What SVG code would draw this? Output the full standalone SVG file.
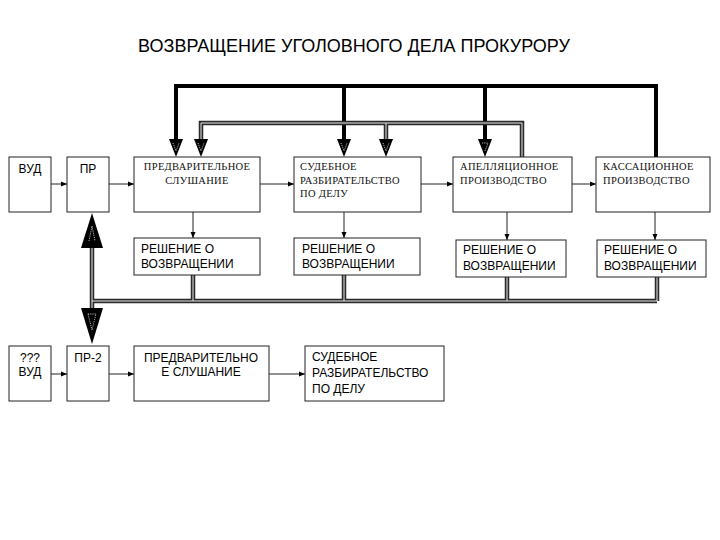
<svg xmlns="http://www.w3.org/2000/svg" width="720" height="540" viewBox="0 0 720 540">
<defs>
<marker id="ah" viewBox="0 0 6 6" refX="6" refY="3" markerWidth="6" markerHeight="6" markerUnits="userSpaceOnUse" orient="auto"><path d="M0,0.5 L6,3 L0,5.5 z" fill="#000"/></marker>
<style>
.box{fill:#fff;stroke:#222;stroke-width:1}
.sans{font-family:"Liberation Sans",Arial,sans-serif;font-size:12px;fill:#000}
.serif{font-family:"Liberation Serif","Times New Roman",serif;font-size:10.5px;fill:#111;letter-spacing:0.3px}
.thin{fill:none;stroke:#222;stroke-width:1;marker-end:url(#ah)}
.thick{fill:none;stroke:#000;stroke-width:4}
.dblo{fill:none;stroke:#2a2a2a;stroke-width:4.5}
.dbli{fill:none;stroke:#e8e8e8;stroke-width:1}
.head{fill:#000}
.mark{fill:none;stroke:#fff;stroke-width:0.7;stroke-dasharray:1.2 1}
</style>
</defs>
<rect width="720" height="540" fill="#fff"/>
<text x="354" y="52" text-anchor="middle" font-family="Liberation Sans, Arial, sans-serif" font-size="18">ВОЗВРАЩЕНИЕ УГОЛОВНОГО ДЕЛА ПРОКУРОРУ</text>

<g id="connectors">
<path class="thick" d="M176,140 V86 H656 V157"/>
<path class="thick" d="M344,86 V140"/>
<path class="thick" d="M485,86 V140"/>
<path class="dblo" d="M201,140 V123 H522 V157"/>
<path class="dblo" d="M386,123 V140"/>
<path class="dbli" d="M201,140 V123 H522 V157"/>
<path class="dbli" d="M386,123 V140"/>
<polygon class="head" points="169,139 183,139 176,157"/>
<polygon class="head" points="194,139 208,139 201,157"/>
<polygon class="head" points="337,139 351,139 344,157"/>
<polygon class="head" points="379,139 393,139 386,157"/>
<polygon class="head" points="478,139 492,139 485,157"/>
<path class="mark" d="M173,143 L176,151 L179,143"/>
<path class="mark" d="M198,143 L201,151 L204,143"/>
<path class="mark" d="M341,143 L344,151 L347,143"/>
<path class="mark" d="M383,143 L386,151 L389,143"/>
<path class="mark" d="M482,143 H488 L485,151"/>
<path class="thin" d="M51,184 H67"/>
<path class="thin" d="M109,184 H134"/>
<path class="thin" d="M260,184 H294"/>
<path class="thin" d="M421,184 H453"/>
<path class="thin" d="M572,184 H596"/>
<path class="thin" d="M193,212 V238"/>
<path class="thin" d="M344,212 V238"/>
<path class="thin" d="M507,212 V240"/>
<path class="thin" d="M655,212 V240"/>
<path class="dblo" d="M193,275 V301 M344,275 V301 M507,277 V301 M657,277 V301 M92,301 H657 M92,246 V309"/>
<path class="dbli" d="M193,275 V301 M344,275 V301 M507,277 V301 M657,277 V301 M92,301 H657 M92,246 V309"/>
<polygon class="head" points="92,213 103,248 81,248"/>
<polygon class="head" points="81,308 103,308 92,344"/>
<path class="mark" d="M89,241 L92,226 L95,241"/>
<path class="mark" d="M88,314 H96 L92,330 Z"/>
<path class="thin" d="M51,374 H67"/>
<path class="thin" d="M109,374 H134"/>
<path class="thin" d="M269,374 H305"/>
</g>

<g id="vud"><rect class="box" x="9" y="157" width="42" height="55"/><text class="sans" x="30" y="173" text-anchor="middle">ВУД</text></g>
<g id="pr"><rect class="box" x="67" y="157" width="42" height="55"/><text class="sans" x="88" y="173" text-anchor="middle">ПР</text></g>
<g id="prelim"><rect class="box" x="134" y="157" width="126" height="55"/><text class="serif" x="197" y="170" text-anchor="middle">ПРЕДВАРИТЕЛЬНОЕ</text><text class="serif" x="197" y="184" text-anchor="middle">СЛУШАНИЕ</text></g>
<g id="trial"><rect class="box" x="294" y="157" width="127" height="55"/><text class="serif" x="300" y="170">СУДЕБНОЕ</text><text class="serif" x="300" y="184">РАЗБИРАТЕЛЬСТВО</text><text class="serif" x="300" y="197">ПО ДЕЛУ</text></g>
<g id="appeal"><rect class="box" x="453" y="157" width="119" height="55"/><text class="serif" x="460" y="170">АПЕЛЛЯЦИОННОЕ</text><text class="serif" x="460" y="184">ПРОИЗВОДСТВО</text></g>
<g id="cassation"><rect class="box" x="596" y="157" width="114" height="55"/><text class="serif" x="603" y="170">КАССАЦИОННОЕ</text><text class="serif" x="603" y="184">ПРОИЗВОДСТВО</text></g>

<g id="dec1"><rect class="box" x="134" y="238" width="126" height="37"/><text class="sans" x="141" y="253">РЕШЕНИЕ О</text><text class="sans" x="141" y="268">ВОЗВРАЩЕНИИ</text></g>
<g id="dec2"><rect class="box" x="294" y="238" width="126" height="37"/><text class="sans" x="302" y="253">РЕШЕНИЕ О</text><text class="sans" x="302" y="268">ВОЗВРАЩЕНИИ</text></g>
<g id="dec3"><rect class="box" x="456" y="240" width="110" height="37"/><text class="sans" x="463" y="254">РЕШЕНИЕ О</text><text class="sans" x="463" y="270">ВОЗВРАЩЕНИИ</text></g>
<g id="dec4"><rect class="box" x="597" y="240" width="109" height="37"/><text class="sans" x="604" y="254">РЕШЕНИЕ О</text><text class="sans" x="604" y="270">ВОЗВРАЩЕНИИ</text></g>

<g id="vud2"><rect class="box" x="9" y="346" width="42" height="55"/><text class="sans" x="30" y="362" text-anchor="middle">???</text><text class="sans" x="30" y="376" text-anchor="middle">ВУД</text></g>
<g id="pr2"><rect class="box" x="67" y="346" width="42" height="55"/><text class="sans" x="88" y="362" text-anchor="middle">ПР-2</text></g>
<g id="prelim2"><rect class="box" x="134" y="346" width="135" height="55"/><text class="sans" x="201" y="362" text-anchor="middle">ПРЕДВАРИТЕЛЬНО</text><text class="sans" x="201" y="376" text-anchor="middle">Е СЛУШАНИЕ</text></g>
<g id="trial2"><rect class="box" x="305" y="346" width="139" height="55"/><text class="sans" x="312" y="361">СУДЕБНОЕ</text><text class="sans" x="312" y="377">РАЗБИРАТЕЛЬСТВО</text><text class="sans" x="312" y="393">ПО ДЕЛУ</text></g>
</svg>
